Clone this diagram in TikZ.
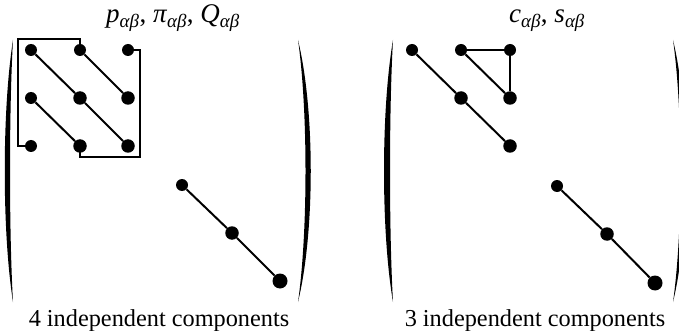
\documentclass[tikz,border=0pt]{standalone}
\usepackage{fontspec}
\setmainfont{Liberation Serif}
\begin{document}
\begin{tikzpicture}[x=1pt,y=-1pt,
  dot/.style={circle,fill=black,inner sep=0pt,minimum size=12pt},
  dotm/.style={dot,minimum size=13.5pt},
  dotl/.style={dot,minimum size=15pt},
  link/.style={line width=2pt},
  frame/.style={line width=1.7pt},
  paren/.style={fill=black,draw=none},
  lbl/.style={inner sep=0pt,anchor=base,font=\fontsize{24.3}{28}\selectfont},
  ttl/.style={inner sep=0pt,anchor=base,font=\fontsize{27}{30}\selectfont}]
\useasboundingbox (0,0) rectangle (679,331);
% ---------- left panel ----------
\node[dot]  (a11) at (31,50) {};
\node[dot]  (a12) at (80,50) {};
\node[dot]  (a13) at (128,50) {};
\node[dot]  (a21) at (31,98) {};
\node[dotm] (a22) at (80,98) {};
\node[dotm] (a23) at (128,98) {};
\node[dot]  (a31) at (31,146) {};
\node[dotm] (a32) at (80,146) {};
\node[dotm] (a33) at (128,146) {};
\node[dot]  (a44) at (182,185) {};
\node[dotm] (a55) at (232,233) {};
\node[dotl] (a66) at (280,281) {};
\draw[link] (a11) -- (a22) -- (a33);
\draw[link] (a12) -- (a23);
\draw[link] (a21) -- (a32);
\draw[link] (a44) -- (a55) -- (a66);
\coordinate (b1) at (18,146);
\coordinate (b2) at (18,39);
\coordinate (b3) at (80,39);
\coordinate (b4) at (140,50);
\coordinate (b5) at (140,157);
\coordinate (b6) at (80,157);
\draw[frame] (a31.center) -- (b1) -- (b2) -- (b3) -- (a12.center);
\draw[frame] (a13.center) -- (b4) -- (b5) -- (b6) -- (a32.center);
\fill[paren] (13,40) .. controls (2,110) and (2,232) .. (13,302)
  .. controls (9,232) and (9,110) .. (13,40);
\fill[paren] (298,40) .. controls (308,110) and (308,232) .. (298,302)
  .. controls (315,232) and (315,110) .. (298,40);
\node[ttl] (t1) at (173,23) {\textit{p}\textsubscript{\textit{αβ}}, \textit{π}\textsubscript{\textit{αβ}}, \textit{Q}\textsubscript{\textit{αβ}}};
\node[lbl] (l1) at (159,326) {4 independent components};
% ---------- right panel ----------
\node[dot]  (c11) at (412,50) {};
\node[dot]  (c12) at (461,50) {};
\node[dot]  (c13) at (510,50) {};
\node[dotm] (c22) at (461,98) {};
\node[dotm] (c23) at (510,98) {};
\node[dotm] (c33) at (510,146) {};
\node[dot]  (c44) at (557,186) {};
\node[dotm] (c55) at (607,234) {};
\node[dotl] (c66) at (655,283) {};
\draw[link] (c11) -- (c22) -- (c33);
\draw[link] (c12) -- (c23);
\draw[link] (c12) -- (c13);
\draw[link] (c13) -- (c23);
\draw[link] (c44) -- (c55) -- (c66);
\fill[paren] (393,40) .. controls (381,110) and (381,232) .. (393,302)
  .. controls (389,232) and (389,110) .. (393,40);
\fill[paren] (673,40) .. controls (683,110) and (683,232) .. (673,302)
  .. controls (690,232) and (690,110) .. (673,40);
\node[ttl] (t2) at (547,23) {\textit{c}\textsubscript{\textit{αβ}}, \textit{s}\textsubscript{\textit{αβ}}};
\node[lbl] (l2) at (535,326) {3 independent components};
\end{tikzpicture}
\end{document}
